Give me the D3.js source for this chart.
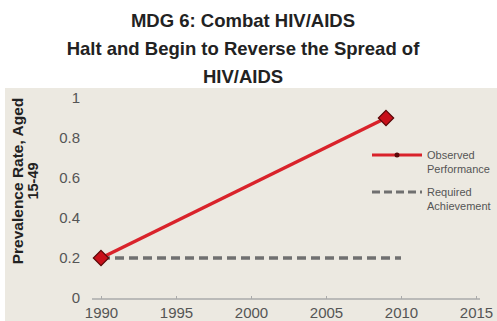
<!DOCTYPE html>
<html><head><meta charset="utf-8">
<script src="https://cdn.jsdelivr.net/npm/d3@7"></script>
<style>body{margin:0;background:#fff}svg{display:block}svg text{font-family:"Liberation Sans",Arial,sans-serif}</style>
</head><body><svg id="c" width="497" height="321"></svg>
<script>
const titleLines = ["MDG 6: Combat HIV/AIDS", "Halt and Begin to Reverse the Spread of", "HIV/AIDS"];
const yTitleLines = ["Prevalence Rate, Aged", "15-49"];
const observedYears = [1990, 2009];
const observedValues = [0.2, 0.9];
const requiredYears = [1990, 2010];
const requiredValues = [0.2, 0.2];
const xTicks = [1990, 1995, 2000, 2005, 2010, 2015];
const yTicks = [0, 0.2, 0.4, 0.6, 0.8, 1];
const legendLabels = [["Observed", "Performance"], ["Required", "Achievement"]];

const FONT = "Liberation Sans, Arial, sans-serif";
const svg = d3.select("#c");
svg.append("rect").attr("x", 5).attr("y", 88).attr("width", 492).attr("height", 233).attr("fill", "#ece9e1");

const x = d3.scaleLinear().domain([1990, 2015]).range([101, 476]);
const y = d3.scaleLinear().domain([0, 1]).range([298, 98]);

// title
svg.append("g").selectAll("text").data(titleLines).join("text")
  .attr("x", 243).attr("y", (d, i) => 27 + i * 28)
  .attr("text-anchor", "middle").attr("font-size", 18.5).attr("font-weight", "bold").attr("fill", "#222")
  .attr("font-family", FONT).text(d => d);

// x axis
svg.append("line").attr("x1", 92).attr("x2", 480).attr("y1", y(0) + 1).attr("y2", y(0) + 1)
  .attr("stroke", "#aaa").attr("stroke-width", 1.5);
const xa = svg.append("g").attr("transform", `translate(0,${y(0) + 1})`)
  .call(d3.axisBottom(x).tickValues(xTicks).tickFormat(d3.format("d")).tickSize(-3).tickPadding(8));
xa.select(".domain").remove();
xa.selectAll("line").attr("stroke", "#aaa");
xa.selectAll("text").attr("font-size", 15).attr("fill", "#555").attr("font-family", FONT);

// y axis labels
const ya = svg.append("g").attr("transform", `translate(80,0)`)
  .call(d3.axisLeft(y).tickValues(yTicks).tickFormat(d => d === 0 ? "0" : d === 1 ? "1" : d3.format(".1f")(d)).tickSize(0).tickPadding(0));
ya.select(".domain").remove();
ya.selectAll("text").attr("font-size", 15).attr("fill", "#555").attr("font-family", FONT);

// y title
svg.append("g").attr("transform", "translate(23,181) rotate(-90)")
  .selectAll("text").data(yTitleLines).join("text")
  .attr("x", 0).attr("y", (d, i) => i * 14.5)
  .attr("text-anchor", "middle").attr("font-size", (d, i) => i ? 14.5 : 15.5).attr("font-weight", "bold").attr("fill", "#222")
  .attr("font-family", FONT).text(d => d);

const line = d3.line().x(d => x(d[0])).y(d => y(d[1]));

// required
svg.append("path").datum(requiredYears.map((d, i) => [d, requiredValues[i]]))
  .attr("d", line).attr("fill", "none").attr("stroke", "#707070").attr("stroke-width", 3.5)
  .attr("stroke-dasharray", "9,5");

// observed
const obs = observedYears.map((d, i) => [d, observedValues[i]]);
svg.append("path").datum(obs).attr("d", line).attr("fill", "none").attr("stroke", "#d9232b").attr("stroke-width", 3.5);
svg.append("g").selectAll("path").data(obs).join("path")
  .attr("d", d3.symbol(d3.symbolDiamond2, 150))
  .attr("transform", d => `translate(${x(d[0])},${y(d[1])})`)
  .attr("fill", "#c8101a").attr("stroke", "#5a0a0a").attr("stroke-width", 1.2);

// legend
const lg = svg.append("g");
lg.append("line").attr("x1", 372).attr("x2", 422).attr("y1", 155).attr("y2", 155)
  .attr("stroke", "#d9232b").attr("stroke-width", 3);
lg.append("circle").attr("cx", 397).attr("cy", 155).attr("r", 2.5).attr("fill", "#5a0a0a");
lg.append("line").attr("x1", 372).attr("x2", 422).attr("y1", 192).attr("y2", 192)
  .attr("stroke", "#707070").attr("stroke-width", 3).attr("stroke-dasharray", "8,4");
legendLabels.forEach((lbl, k) => {
  lg.append("g").selectAll("text").data(lbl).join("text")
    .attr("x", 427).attr("y", (d, i) => (k ? 196 : 159) + i * 14)
    .attr("font-size", 11).attr("fill", "#555").attr("font-family", FONT).text(d => d);
});
</script></body></html>
